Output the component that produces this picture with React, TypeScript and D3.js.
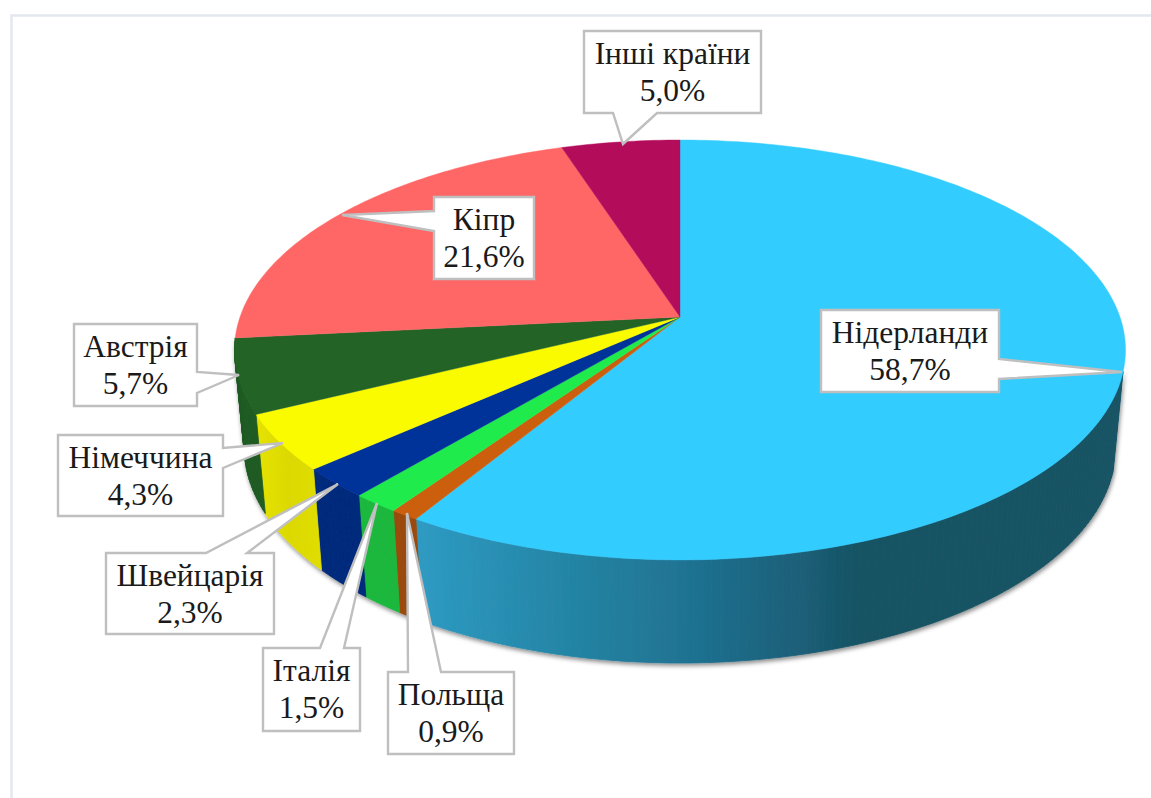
import React from "react";
import * as d3 from "d3";

const countries = ["Нідерланди", "Польща", "Італія", "Швейцарія", "Німеччина", "Австрія", "Кіпр", "Інші країни"];
const shares = [58.7, 0.9, 1.5, 2.3, 4.3, 5.7, 21.6, 5.0];
const shareLabels = ["58,7%", "0,9%", "1,5%", "2,3%", "4,3%", "5,7%", "21,6%", "5,0%"];
const topColors = ["#33CCFF", "#CC5F0E", "#1FEB4C", "#003399", "#FBFB00", "#236325", "#FF6666", "#B30C5A"];
const wallColors = ["url(#wallBlue)", "#9B4A0B", "#1BB83E", "#002A7C", "url(#wallYellow)", "#205B22", "none", "none"];

// Callout layout: [left, top, right, bottom], pointer base, pointer tip
type Side = "left" | "right" | "top" | "bottom";
const boxes = [
  [821, 310, 999, 392], [388, 672, 514, 754], [263, 648, 360, 731], [106, 553, 274, 634],
  [58, 435, 223, 516], [74, 324, 197, 406], [434, 197, 534, 279], [584, 31, 761, 113],
];
const sides: Side[] = ["right", "top", "top", "top", "right", "right", "left", "bottom"];
const bases = [[359, 379], [408, 441], [320, 344], [206, 247], [448, 468], [372, 393], [211, 231], [613, 657]];
const tips = [[1122, 372], [407, 513], [377, 503], [338, 484], [283, 443], [239, 375], [342, 215], [623, 144]];

// Perspective disc
const cx = 680, cy = 317, persp = 0.157;
const wallVisibleFrom = 1.83; // radians: where the front wall emerges on the right
const xScale = d3.scaleLinear().domain([-1, 1]).range([cx - 440, cx + 440]);
const yScale = d3.scaleLinear().domain([-1, 1]).range([cy + 204.8, cy - 204.8]);
const projectTop = (a: number): [number, number] => {
  const u = Math.sin(a), v = Math.cos(a), w = 1 + persp * v;
  return [xScale(u / w), yScale(v / w)];
};
const projectBottom = (a: number): [number, number] => {
  const [x, y] = projectTop(a);
  return [cx + (x - cx) * 0.978, y + 98 + (y - 372) * 0.027];
};

const arcs = d3.pie<number>().sort(null).startAngle(0).endAngle(2 * Math.PI)(shares);
const line = d3.line();

const sample = (a0: number, a1: number) =>
  d3.range(0, Math.max(2, Math.ceil(((a1 - a0) * 180) / Math.PI)) + 1).map((i, _, arr) => a0 + ((a1 - a0) * i) / (arr.length - 1));

const slicePath = (a0: number, a1: number) =>
  line([[cx, cy], ...sample(a0, a1).map(projectTop)]) + "Z";

const wallQuads = (a0: number, a1: number) => {
  const angles = sample(Math.max(a0, wallVisibleFrom), a1);
  return d3.pairs(angles).map(([p, q]) =>
    line([projectTop(p), projectTop(q), projectBottom(q), projectBottom(p)]) + "Z"
  );
};

const calloutPath = (i: number) => {
  const [l, t, r, b] = boxes[i];
  const [b0, b1] = bases[i];
  const [tx, ty] = tips[i];
  const pts: [number, number][] = [[l, t]];
  if (sides[i] === "top") pts.push([b0, t], [tx, ty], [b1, t]);
  pts.push([r, t]);
  if (sides[i] === "right") pts.push([r, b0], [tx, ty], [r, b1]);
  pts.push([r, b]);
  if (sides[i] === "bottom") pts.push([b1, b], [tx, ty], [b0, b]);
  pts.push([l, b]);
  if (sides[i] === "left") pts.push([l, b1], [tx, ty], [l, b0]);
  return line(pts) + "Z";
};

export default function App() {
  return (
    <svg width={1151} height={798} viewBox="0 0 1151 798"
      style={{ position: "absolute", left: 0, top: 0, display: "block", background: "#fff" }}>
      <defs>
        <linearGradient id="wallBlue" gradientUnits="userSpaceOnUse" x1={400} x2={1130} y1={0} y2={0}>
          <stop offset="0" stopColor="#2F9DC6" />
          <stop offset="0.274" stopColor="#22809F" />
          <stop offset="0.41" stopColor="#1F7090" />
          <stop offset="0.548" stopColor="#1B5F78" />
          <stop offset="0.63" stopColor="#175263" />
          <stop offset="1" stopColor="#185364" />
        </linearGradient>
        <linearGradient id="wallYellow" gradientUnits="userSpaceOnUse" x1={256} x2={322} y1={0} y2={0}>
          <stop offset="0" stopColor="#E6E300" />
          <stop offset="0.5" stopColor="#DCD900" />
          <stop offset="1" stopColor="#E0DD00" />
        </linearGradient>
        <filter id="shadow" x="-5%" y="-5%" width="110%" height="115%">
          <feDropShadow dx={1} dy={2.5} stdDeviation={2.2} floodColor="#000" floodOpacity={0.45} />
        </filter>
      </defs>

      <path d={line([[11.5, 798], [11.5, 15.5], [1151, 15.5]]) ?? ""} fill="none" stroke="#E3E8EF" strokeWidth={2.5} />

      <g filter="url(#shadow)">
        {arcs.map((d, i) => wallColors[i] === "none" ? null : (
          <g key={i}>
            {wallQuads(d.startAngle, d.endAngle).map((q, k) => (
              <path key={k} d={q} fill={wallColors[i]} stroke={wallColors[i]} strokeWidth={0.8} />
            ))}
          </g>
        ))}
      </g>

      {arcs.map((d, i) => (
        <path key={i} d={slicePath(d.startAngle, d.endAngle)} fill={topColors[i]} stroke={topColors[i]} strokeWidth={0.4} />
      ))}

      {countries.map((name, i) => {
        const [l, t, r] = boxes[i];
        const mid = (l + r) / 2;
        return (
          <g key={name}>
            <path d={calloutPath(i)} fill="#fff" stroke="#BFBFBF" strokeWidth={2.4} strokeLinejoin="miter" />
            <text x={mid} y={t + 33} textAnchor="middle" fontFamily="'Liberation Serif', serif" fontSize={31.5} fill="#1A1A1A">{name}</text>
            <text x={mid} y={t + 70} textAnchor="middle" fontFamily="'Liberation Serif', serif" fontSize={31.5} fill="#1A1A1A">{shareLabels[i]}</text>
          </g>
        );
      })}
    </svg>
  );
}
